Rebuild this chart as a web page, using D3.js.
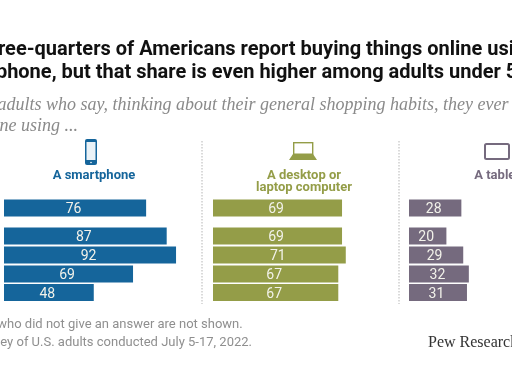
<!DOCTYPE html>
<html>
<head>
<meta charset="utf-8">
<script src="https://cdn.jsdelivr.net/npm/d3@7"></script>
<style>
  html, body { margin: 0; padding: 0; background: #fff; overflow: hidden; }
  svg { display: block; filter: blur(0.35px); }
  .title { font: 700 20px "Roboto", sans-serif; fill: #111; }
  .subtitle { font: italic 18px "Liberation Serif", serif; fill: #8a8a8a; }
  .note { font: 13px "Roboto", sans-serif; fill: #8f8f8f; }
  .credit { font: 16px "Liberation Serif", serif; fill: #333; }
  .header { font: 700 13px "Roboto", sans-serif; text-anchor: middle; }
  .value { font: 14px "Roboto", sans-serif; fill: #f2f2ea; text-anchor: middle; }
</style>
</head>
<body>
<div id="chart"></div>
<script>
const rows = ['All adults', 'Ages 18-29', '30-49', '50-64', '65+']
const smartphone = [76, 87, 92, 69, 48]
const computer = [69, 69, 71, 67, 67]
const tablet = [28, 20, 29, 32, 31]

const titleLines = [
    'three-quarters of Americans report buying things online using a',
    'smartphone, but that share is even higher among adults under 50'
]
const subtitleLines = [
    '% of U.S. adults who say, thinking about their general shopping habits, they ever buy',
    'things online using ...'
]
const noteLines = [
    'Note: Respondents who did not give an answer are not shown.',
    'Source: Survey of U.S. adults conducted July 5-17, 2022.'
]

const width = 512
const height = 384

const svg = d3.select('#chart').append('svg')
    .attr('width', width)
    .attr('height', height)

// title, subtitle and notes run off the frame, same as the reference
svg.selectAll('.title').data(titleLines).join('text')
    .attr('class', 'title')
    .attr('x', (d, i) => i === 0 ? -20 : -57)
    .attr('y', (d, i) => 55 + i * 23)
    .text(d => d)

svg.selectAll('.subtitle').data(subtitleLines).join('text')
    .attr('class', 'subtitle')
    .attr('x', (d, i) => i === 0 ? -76 : -77)
    .attr('y', (d, i) => 110 + i * 21)
    .text(d => d)

svg.selectAll('.note').data(noteLines).join('text')
    .attr('class', 'note')
    .attr('x', (d, i) => i === 0 ? -116 : -72)
    .attr('y', (d, i) => 328 + i * 18)
    .text(d => d)

svg.append('text')
    .attr('class', 'credit')
    .attr('x', 428)
    .attr('y', 347)
    .text('Pew Research Center')

// all panels share one length scale, rows sit on an ordinal scale because of the gap
const x = d3.scaleLinear().domain([0, 100]).range([0, 187])
const y = d3.scaleOrdinal().domain(rows).range([199.5, 227.5, 246.5, 265.5, 284])
const barHeight = 17

const panels = [
    { name: ['A smartphone'], values: smartphone, left: 4, color: '#15659b', labelX: 94 },
    { name: ['A desktop or', 'laptop computer'], values: computer, left: 213, color: '#949d48', labelX: 304 },
    { name: ['A tablet'], values: tablet, left: 409, color: '#756a7e', labelX: 497 }
]

panels.forEach(p => {
    const g = svg.append('g').attr('transform', `translate(${p.left},0)`)

    g.selectAll('rect').data(p.values).join('rect')
        .attr('x', 0)
        .attr('y', (d, i) => y(rows[i]))
        .attr('width', d => x(d))
        .attr('height', barHeight)
        .attr('fill', p.color)

    g.selectAll('text').data(p.values).join('text')
        .attr('class', 'value')
        .attr('x', d => x(d) / 2 - 1.5)
        .attr('y', (d, i) => y(rows[i]) + barHeight / 2 + 5)
        .text(d => d)

    svg.selectAll(null).data(p.name).join('text')
        .attr('class', 'header')
        .attr('x', p.labelX)
        .attr('y', (d, i) => 179 + i * 12)
        .attr('fill', p.color)
        .text(d => d)
})

// dotted dividers between panels
svg.selectAll('.divider').data([202, 399]).join('line')
    .attr('class', 'divider')
    .attr('x1', d => d)
    .attr('x2', d => d)
    .attr('y1', 141)
    .attr('y2', 304)
    .attr('stroke', '#b5b5b5')
    .attr('stroke-width', 1)
    .attr('stroke-dasharray', '1.5 1.5')

// device icons
const phone = svg.append('g').attr('fill', '#15659b')
phone.append('rect').attr('x', 85).attr('y', 139).attr('width', 12).attr('height', 26).attr('rx', 2)
phone.append('rect').attr('x', 86.5).attr('y', 142).attr('width', 9).attr('height', 18).attr('fill', '#eaf2f7')
phone.append('circle').attr('cx', 91).attr('cy', 162.5).attr('r', 0.8).attr('fill', '#fff')

const laptop = svg.append('g')
laptop.append('rect').attr('x', 293.7).attr('y', 142.7).attr('width', 19).attr('height', 11.5)
    .attr('fill', '#fff').attr('stroke', '#949d48').attr('stroke-width', 1.4)
laptop.append('path').attr('d', 'M293,154 L313,154 L317,160 L289,160 Z').attr('fill', '#949d48')

svg.append('rect').attr('x', 485).attr('y', 144).attr('width', 24).attr('height', 15).attr('rx', 1.5)
    .attr('fill', '#fff').attr('stroke', '#756a7e').attr('stroke-width', 2)
</script>
</body>
</html>
